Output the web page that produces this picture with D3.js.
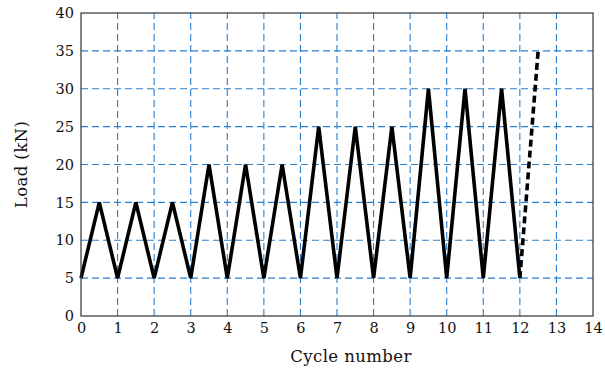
<!DOCTYPE html>
<html>
<head>
<meta charset="utf-8">
<script src="https://cdn.jsdelivr.net/npm/d3@7"></script>
<style>
  body { margin: 0; background: #fff; }
</style>
</head>
<body>
<div id="chart"></div>
<script>
// cycles: [cycle, load]
const cycleX = [0, 0.5, 1, 1.5, 2, 2.5, 3, 3.5, 4, 4.5, 5, 5.5, 6, 6.5, 7, 7.5, 8, 8.5, 9, 9.5, 10, 10.5, 11, 11.5, 12];
const loadY = [5, 15, 5, 15, 5, 15, 5, 20, 5, 20, 5, 20, 5, 25, 5, 25, 5, 25, 5, 30, 5, 30, 5, 30, 5];
const failX = [12, 12.5];
const failY = [5, 35];
const xTicks = d3.range(0, 15);
const yTicks = d3.range(0, 45, 5);

const width = 605;
const height = 369;
const margin = { top: 13, right: 12, bottom: 53, left: 81 };
const serif = '"DejaVu Serif", serif';

const svg = d3.select('#chart').append('svg').attr('width', width).attr('height', height);

const x = d3.scaleLinear().domain([0, 14]).range([margin.left, width - margin.right]);
const y = d3.scaleLinear().domain([0, 40]).range([height - margin.bottom, margin.top]);

/* Grid
=========================================================================*/
const grid = svg.append('g').attr('stroke', '#2a7fd0').attr('stroke-width', 1.1).attr('stroke-dasharray', '7,4');

grid.selectAll('.vg')
  .data(xTicks.filter(d => d > 0 && d < 14))
  .enter().append('line')
  .attr('x1', d => x(d)).attr('x2', d => x(d))
  .attr('y1', y(0)).attr('y2', y(40));

grid.selectAll('.hg')
  .data(yTicks.filter(d => d > 0 && d < 40))
  .enter().append('line')
  .attr('x1', x(0)).attr('x2', x(14))
  .attr('y1', d => y(d)).attr('y2', d => y(d));

/* Lines
=========================================================================*/
const line = d3.line().x(d => x(d[0])).y(d => y(d[1]));

svg.append('path')
  .datum(d3.zip(cycleX, loadY))
  .attr('d', line)
  .attr('fill', 'none')
  .attr('stroke', '#000')
  .attr('stroke-width', 3.6);

svg.append('path')
  .datum(d3.zip(failX, failY))
  .attr('d', line)
  .attr('fill', 'none')
  .attr('stroke', '#000')
  .attr('stroke-width', 3.6)
  .attr('stroke-dasharray', '7,4');

/* Frame + axes
=========================================================================*/
svg.append('rect')
  .attr('x', x(0)).attr('y', y(40))
  .attr('width', x(14) - x(0)).attr('height', y(0) - y(40))
  .attr('fill', 'none').attr('stroke', '#333').attr('stroke-width', 1.2);

const xAxis = d3.axisBottom(x).tickValues(xTicks).tickSize(0).tickPadding(7);
svg.append('g')
  .attr('transform', `translate(0, ${y(0)})`)
  .call(xAxis)
  .attr('font-family', serif)
  .call(g => g.select('.domain').remove())
  .selectAll('text').attr('font-size', 14.5).attr('fill', '#111');

const yAxis = d3.axisLeft(y).tickValues(yTicks).tickSize(0).tickPadding(7);
svg.append('g')
  .attr('transform', `translate(${x(0)}, 0)`)
  .call(yAxis)
  .attr('font-family', serif)
  .call(g => g.select('.domain').remove())
  .selectAll('text').attr('font-size', 14.5).attr('fill', '#111');

svg.append('text')
  .attr('x', 351).attr('y', 362)
  .attr('text-anchor', 'middle')
  .attr('font-family', serif)
  .attr('font-size', 16.5)
  .attr('letter-spacing', 0.4)
  .attr('fill', '#111')
  .text('Cycle number');

svg.append('text')
  .attr('transform', `translate(27, ${(y(0) + y(40)) / 2}) rotate(-90)`)
  .attr('text-anchor', 'middle')
  .attr('font-family', serif)
  .attr('font-size', 16.5)
  .attr('letter-spacing', 0.4)
  .attr('fill', '#111')
  .text('Load (kN)');
</script>
</body>
</html>
